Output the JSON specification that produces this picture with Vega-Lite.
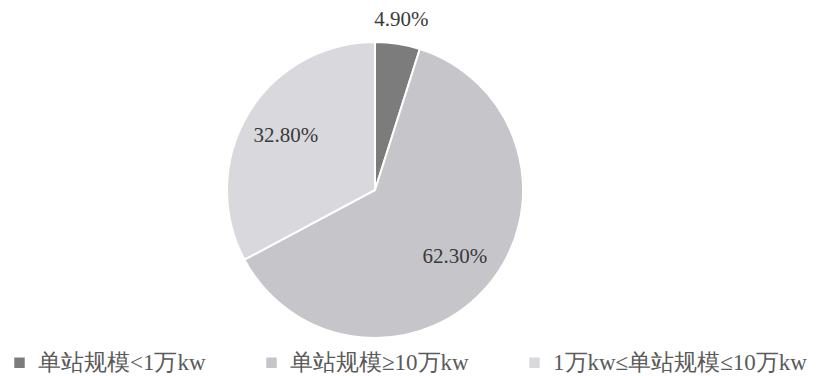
{
  "$schema": "https://vega.github.io/schema/vega-lite/v6.json",
  "autosize": "none",
  "width": 750,
  "height": 372,
  "padding": {"left": 0, "top": 4, "right": 77, "bottom": 0},
  "background": "white",
  "config": {"view": {"stroke": null}},
  "data": {
    "values": [
      {"类别": "单站规模<1万kw", "占比": 4.9, "标签": "4.90%", "序": 1},
      {"类别": "单站规模≥10万kw", "占比": 62.3, "标签": "62.30%", "序": 2},
      {"类别": "1万kw≤单站规模≤10万kw", "占比": 32.8, "标签": "32.80%", "序": 3}
    ]
  },
  "encoding": {
    "theta": {"field": "占比", "type": "quantitative", "stack": true},
    "order": {"field": "序", "type": "quantitative"}
  },
  "layer": [
    {
      "mark": {"type": "arc", "outerRadius": 148, "stroke": "white", "strokeWidth": 2},
      "encoding": {
        "color": {
          "field": "类别",
          "type": "nominal",
          "sort": ["单站规模<1万kw", "单站规模≥10万kw", "1万kw≤单站规模≤10万kw"],
          "scale": {
            "domain": ["单站规模<1万kw", "单站规模≥10万kw", "1万kw≤单站规模≤10万kw"],
            "range": ["#7c7c7c", "#c6c6ca", "#d9d9dd"]
          },
          "legend": {
            "title": null,
            "orient": "none",
            "legendX": 8,
            "legendY": 347,
            "direction": "horizontal",
            "columns": 3,
            "symbolType": "square",
            "symbolSize": 110,
            "symbolStrokeWidth": 0,
            "labelFont": "serif",
            "labelFontSize": 23,
            "labelColor": "#5a5a5a",
            "labelLimit": 400,
            "labelOffset": 7,
            "columnPadding": 54
          }
        }
      }
    },
    {
      "mark": {
        "type": "text",
        "radius": {"expr": "datum['占比'] < 10 ? 172 : 104"},
        "font": "serif",
        "fontSize": 21,
        "color": "#3a3a3a"
      },
      "encoding": {
        "text": {"field": "标签", "type": "nominal"}
      }
    }
  ]
}
